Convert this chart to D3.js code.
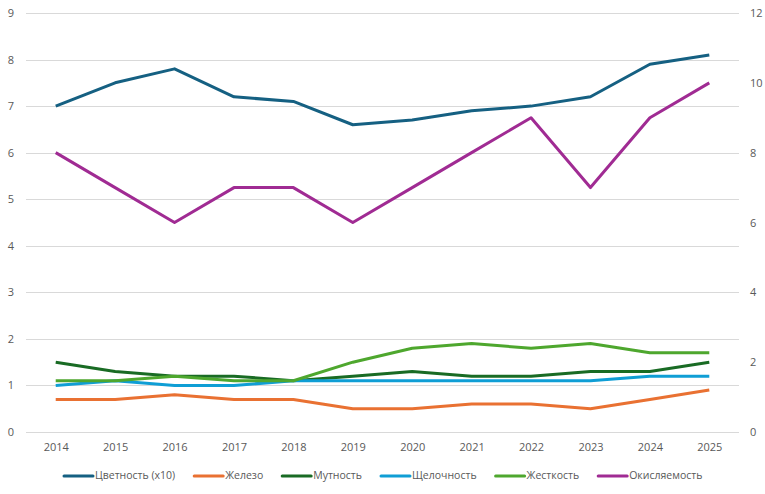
<!DOCTYPE html>
<html>
<head>
<meta charset="utf-8">
<script src="https://cdn.jsdelivr.net/npm/d3@7"></script>
<style>
  body { margin: 0; background: #fff; }
  text { font-family: "Open Sans", "Liberation Sans", sans-serif; fill: #595959; }
</style>
</head>
<body>
<div id="chart"></div>
<script>
/* data */
var years = ["2014", "2015", "2016", "2017", "2018", "2019", "2020", "2021", "2022", "2023", "2024", "2025"];
var cvetnost = [7.0, 7.5, 7.8, 7.2, 7.1, 6.6, 6.7, 6.9, 7.0, 7.2, 7.9, 8.1];
var zhelezo = [0.7, 0.7, 0.8, 0.7, 0.7, 0.5, 0.5, 0.6, 0.6, 0.5, 0.7, 0.9];
var mutnost = [1.5, 1.3, 1.2, 1.2, 1.1, 1.2, 1.3, 1.2, 1.2, 1.3, 1.3, 1.5];
var shchelochnost = [1.0, 1.1, 1.0, 1.0, 1.1, 1.1, 1.1, 1.1, 1.1, 1.1, 1.2, 1.2];
var zhestkost = [1.1, 1.1, 1.2, 1.1, 1.1, 1.5, 1.8, 1.9, 1.8, 1.9, 1.7, 1.7];
var okislyaemost = [8, 7, 6, 7, 7, 6, 7, 8, 9, 7, 9, 10]; // right axis
var leftTicks = [0, 1, 2, 3, 4, 5, 6, 7, 8, 9];
var rightTicks = [0, 2, 4, 6, 8, 10, 12];

var series = [
  { name: "Цветность (x10)", values: cvetnost, color: "#156082", axis: "left" },
  { name: "Железо", values: zhelezo, color: "#E97132", axis: "left" },
  { name: "Мутность", values: mutnost, color: "#196B24", axis: "left" },
  { name: "Щелочность", values: shchelochnost, color: "#0F9ED5", axis: "left" },
  { name: "Жесткость", values: zhestkost, color: "#4EA72E", axis: "left" },
  { name: "Окисляемость", values: okislyaemost, color: "#A02B93", axis: "right" }
];

/* size of the graphic */
var width = 765, height = 494;
var plotLeft = 26, plotRight = 739, plotTop = 13, plotBottom = 432;

var svg = d3.select("#chart").append("svg")
  .attr("width", width)
  .attr("height", height);

var x = d3.scalePoint().domain(years).range([plotLeft, plotRight]).padding(0.5);
var yL = d3.scaleLinear().domain([0, 9]).range([plotBottom, plotTop]);
var yR = d3.scaleLinear().domain([0, 12]).range([plotBottom, plotTop]);

/* gridlines */
svg.append("g").selectAll("line").data(leftTicks).join("line")
  .attr("x1", plotLeft).attr("x2", plotRight)
  .attr("y1", d => Math.round(yL(d)) + 0.5).attr("y2", d => Math.round(yL(d)) + 0.5)
  .style("stroke", "#d9d9d9").style("stroke-width", 1);

/* axes */
var axL = svg.append("g").attr("transform", "translate(" + plotLeft + ",0)")
  .call(d3.axisLeft(yL).tickValues(leftTicks).tickSize(0).tickPadding(12));
var axR = svg.append("g").attr("transform", "translate(" + plotRight + ",0)")
  .call(d3.axisRight(yR).tickValues(rightTicks).tickSize(0).tickPadding(11));
var axB = svg.append("g").attr("transform", "translate(0," + plotBottom + ")")
  .call(d3.axisBottom(x).tickSize(0).tickPadding(11));
[axL, axR, axB].forEach(function(a) {
  a.select(".domain").remove();
  a.selectAll("text").style("font-size", "11px").style("fill", "#595959").attr("font-family", null);
});

/* lines */
series.forEach(function(s) {
  var y = s.axis === "left" ? yL : yR;
  var line = d3.line().x((d, i) => x(years[i])).y(d => y(d));
  svg.append("path")
    .datum(s.values)
    .attr("d", line)
    .style("fill", "none")
    .style("stroke", s.color)
    .style("stroke-width", 3)
    .style("stroke-linejoin", "round");
});

/* legend */
var lx = 64, ly = 476;
series.forEach(function(s) {
  svg.append("line")
    .attr("x1", lx).attr("x2", lx + 29)
    .attr("y1", ly).attr("y2", ly)
    .style("stroke", s.color).style("stroke-width", 3).style("stroke-linecap", "round");
  var t = svg.append("text")
    .attr("x", lx + 31).attr("y", ly)
    .attr("dominant-baseline", "middle")
    .style("font-size", "10.5px")
    .text(s.name);
  lx += 31 + t.node().getComputedTextLength() + 19;
});
</script>
</body>
</html>
